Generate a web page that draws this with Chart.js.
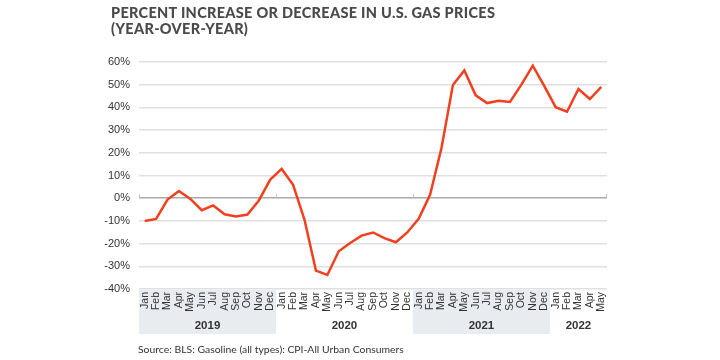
<!DOCTYPE html>
<html><head><meta charset="utf-8">
<script src="https://cdn.jsdelivr.net/npm/chart.js@4"></script>
<style>
html,body{margin:0;padding:0;background:#fff;}
#wrap{position:relative;width:720px;height:360px;}
canvas{position:absolute;left:0;top:0;}
.t{position:absolute;left:111px;font-family:Lato,'Open Sans',sans-serif;font-weight:900;font-size:14.5px;letter-spacing:0.3px;color:#4a4a4a;white-space:nowrap;}
.src{position:absolute;left:138px;top:343px;font-family:Lato,sans-serif;font-size:10.4px;color:#333;white-space:nowrap;}
</style></head>
<body><div id="wrap">
<canvas id="c" width="720" height="360"></canvas>
<div class="t" style="top:4px">PERCENT INCREASE OR DECREASE IN U.S. GAS PRICES</div>
<div class="t" style="top:20px">(YEAR-OVER-YEAR)</div>
<div class="src">Source: BLS: Gasoline (all types): CPI-All Urban Consumers</div>
</div>
<script>
const months = ["Jan","Feb","Mar","Apr","May","Jun","Jul","Aug","Sep","Oct","Nov","Dec",
"Jan","Feb","Mar","Apr","May","Jun","Jul","Aug","Sep","Oct","Nov","Dec",
"Jan","Feb","Mar","Apr","May","Jun","Jul","Aug","Sep","Oct","Nov","Dec",
"Jan","Feb","Mar","Apr","May"];
const years = ["2019","2020","2021","2022"];
const yearStart = [0,12,24,36];
const yearEnd = [11,23,35,40];
const shadedYears = ["2019","2021"];
const pctChange = [-10.0,-9.1,-0.6,3.2,-0.3,-5.3,-3.2,-7.1,-8.1,-7.2,-1.0,8.2,
12.9,5.9,-9.5,-31.9,-33.8,-23.4,-19.7,-16.5,-15.1,-17.6,-19.4,-15.1,
-9.1,1.5,22.1,49.9,56.3,45.3,41.9,42.9,42.4,50.0,58.4,49.5,
40.1,38.1,48.1,43.7,49.0];
const yTicks = [-40,-30,-20,-10,0,10,20,30,40,50,60];

const yearPlugin = {
  id:'years',
  beforeDraw(chart){
    const ctx=chart.ctx, x=chart.scales.x, a=chart.chartArea;
    const half=(x.getPixelForValue(1)-x.getPixelForValue(0))/2;
    ctx.save();
    ctx.fillStyle='#e8ebef';
    years.forEach((y,i)=>{
      if(!shadedYears.includes(y)) return;
      const l=x.getPixelForValue(yearStart[i])-half, r=x.getPixelForValue(yearEnd[i])+half;
      ctx.fillRect(l,a.bottom+1,r-l,44);
    });
    ctx.restore();
  },
  afterDraw(chart){
    const ctx=chart.ctx, x=chart.scales.x, yS=chart.scales.y, a=chart.chartArea;
    const half=(x.getPixelForValue(1)-x.getPixelForValue(0))/2;
    ctx.save();
    ctx.fillStyle='#333';
    ctx.font='bold 11.5px "Liberation Sans", Arial, sans-serif';
    ctx.textAlign='center';ctx.textBaseline='middle';
    years.forEach((y,i)=>{
      const l=x.getPixelForValue(yearStart[i])-half, r=x.getPixelForValue(yearEnd[i])+half;
      ctx.fillText(y,(l+r)/2,a.bottom+37);
    });
    const z=yS.getPixelForValue(0);
    ctx.strokeStyle='#bbb';ctx.lineWidth=1;
    [0,1,2].forEach(i=>{
      const px=Math.round(x.getPixelForValue(yearStart[i])-half)+0.5;
      ctx.beginPath();ctx.moveTo(px,z);ctx.lineTo(px,z-4);ctx.stroke();
    });
    const pr=Math.round(x.getPixelForValue(40)+half)-0.5;
    ctx.beginPath();ctx.moveTo(pr,z);ctx.lineTo(pr,z-4);ctx.stroke();
    ctx.restore();
  }
};

new Chart(document.getElementById('c'),{
  type:'line',
  data:{labels:months,datasets:[{data:pctChange,borderColor:'#f0401f',borderWidth:2.5,pointRadius:0,tension:0,fill:false}]},
  options:{
    responsive:false,animation:false,
    layout:{padding:{left:0,right:113,top:62,bottom:0}},
    plugins:{legend:{display:false},tooltip:{enabled:false}},
    scales:{
      x:{type:'category',offset:true,
        grid:{display:false,drawTicks:false},border:{display:false},
        ticks:{autoSkip:false,minRotation:90,maxRotation:90,padding:3,color:'#333',font:{family:'"Liberation Sans", Arial, sans-serif',size:10.5}},
        afterFit(s){s.height=71;}
      },
      y:{min:-40,max:60,
        afterBuildTicks(s){s.ticks=yTicks.map(v=>({value:v}));},
        grid:{drawTicks:false,lineWidth:1.5,color:c=>c.tick&&c.tick.value===0?'#aaa':'#e0e0e0'},
        border:{display:false},
        ticks:{padding:9,color:'#333',font:{family:'"Liberation Sans", Arial, sans-serif',size:11},callback:v=>v+'%'},
        afterFit(s){s.width=139;}
      }
    }
  },
  plugins:[yearPlugin]
});
</script>
</body></html>
